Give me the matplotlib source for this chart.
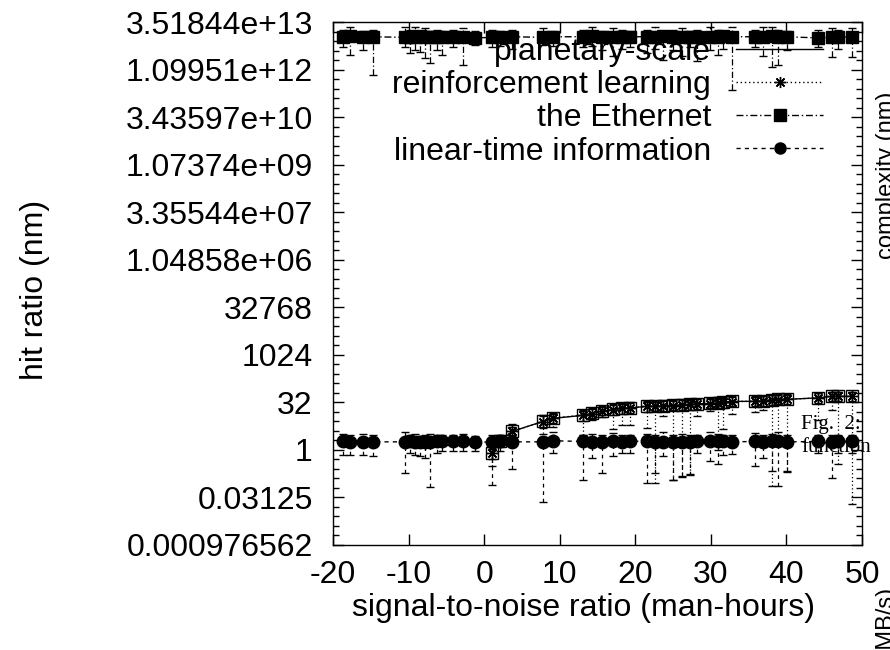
import matplotlib.pyplot as plt
from matplotlib.lines import Line2D
from matplotlib.ticker import FixedLocator, FixedFormatter, NullFormatter

plt.rcParams['font.family'] = ['Liberation Sans', 'DejaVu Sans']

# x positions shared by all series
x_all = [-18.7, -17.8, -16.0, -14.7, -10.5, -9.8, -9.1, -8.5, -7.8, -7.2, -6.2, -5.6,
         -4.1, -2.8, -1.2, 1.0, 2.1, 3.7, 7.8, 9.1, 13.1, 14.3, 15.6, 17.1, 18.2, 19.3,
         21.6, 22.6, 23.7, 25.0, 26.2, 27.2, 28.2, 29.9, 31.0, 31.6, 32.8, 35.8, 36.9,
         38.1, 38.9, 40.1, 44.2, 46.0, 46.8, 48.7]

# linear-time information
time_y = [1.85, 1.8, 1.75, 1.8, 1.8, 1.85, 1.8, 1.8, 1.75, 1.8, 1.85, 1.85, 1.9, 1.9, 1.8,
          1.75, 1.85, 1.8, 1.8, 1.95, 1.85, 1.8, 1.8, 1.85, 1.8, 1.9, 1.85, 1.8, 1.8, 1.75,
          1.8, 1.8, 1.85, 1.85, 1.9, 1.85, 1.8, 1.85, 1.8, 1.85, 1.85, 1.8, 1.85, 1.8, 1.85, 1.9]
time_lo = [0.67, 0.7, 0.67, 0.65, 0.18, 0.78, 0.7, 0.62, 0.55, 0.065, 0.8, 0.9, 0.9, 0.9, 0.9,
           0.075, 0.9, 0.24, 0.023, 0.78, 0.11, 0.54, 0.18, 0.62, 0.78, 0.78, 0.087, 0.18, 0.62,
           0.11, 0.145, 0.155, 0.78, 0.43, 0.37, 0.7, 0.75, 0.32, 0.55, 0.21, 0.07, 0.21, 0.78,
           0.125, 0.78, 0.78]
time_hi = [3.3, 3.0, 3.3, 2.9, 3.6, 3.0, 3.3, 2.8, 3.0, 3.3, 2.9, 3.0, 2.9, 3.1, 2.8,
           3.0, 2.9, 3.0, 3.3, 3.8, 3.0, 3.3, 3.0, 3.5, 3.0, 2.9, 3.3, 3.0, 3.6, 3.0,
           3.3, 2.9, 3.0, 3.8, 3.3, 3.0, 2.9, 3.5, 3.0, 3.3, 3.8, 3.0, 2.9, 3.0, 2.9, 3.0]

# the Ethernet
eth_y = [1.2e13, 1.25e13, 1.2e13, 1.2e13, 1.15e13, 1.2e13, 1.2e13, 1.25e13, 1.2e13, 1.15e13,
         1.2e13, 1.2e13, 1.15e13, 1.2e13, 1.1e13, 1.15e13, 1.2e13, 1.2e13, 1.15e13, 1.2e13,
         1.2e13, 1.25e13, 1.2e13, 1.2e13, 1.15e13, 1.2e13, 1.2e13, 1.2e13, 1.25e13, 1.2e13,
         1.2e13, 1.2e13, 1.15e13, 1.2e13, 1.2e13, 1.25e13, 1.2e13, 1.2e13, 1.2e13, 1.25e13,
         1.2e13, 1.2e13, 1.1e13, 1.15e13, 1.2e13, 1.15e13]
eth_lo = [5.7e12, 3.2e12, 4.6e12, 7.5e11, 5.7e12, 3.6e12, 4.6e12, 4.0e12, 2.6e12, 1.8e12,
          4.6e12, 3.2e12, 5.7e12, 1.5e12, 6.5e12, 5.7e12, 6.0e12, 5.0e12, 6.5e12, 6.0e12,
          5.5e12, 6.0e12, 4.6e12, 3.0e12, 5.0e12, 5.7e12, 3.6e12, 5.0e12, 2.2e12, 4.6e12,
          3.0e12, 5.7e12, 2.0e12, 4.6e12, 3.2e12, 5.0e12, 2.5e11, 5.7e12, 3.0e12, 1.3e12,
          1.5e12, 4.6e12, 5.7e12, 2.7e12, 5.0e12, 2.7e12]
eth_hi = [2.0e13, 2.4e13, 1.8e13, 2.0e13, 2.4e13, 2.0e13, 2.4e13, 1.8e13, 2.2e13, 1.8e13,
          2.0e13, 1.8e13, 2.0e13, 2.2e13, 1.8e13, 2.0e13, 1.8e13, 2.0e13, 2.2e13, 1.8e13,
          2.0e13, 2.4e13, 1.8e13, 2.2e13, 2.0e13, 1.8e13, 2.0e13, 2.4e13, 1.8e13, 2.0e13,
          2.2e13, 1.8e13, 2.0e13, 2.4e13, 2.0e13, 1.8e13, 2.4e13, 2.0e13, 2.4e13, 2.4e13,
          2.0e13, 1.8e13, 2.0e13, 2.2e13, 2.0e13, 2.2e13]

# planetary-scale and reinforcement learning (start at x ~ 1)
x_rise = [1.0, 2.1, 3.7, 7.8, 9.1, 13.1, 14.3, 15.6, 17.1, 18.2, 19.3, 21.6, 22.6, 23.7,
          25.0, 26.2, 27.2, 28.2, 29.9, 31.0, 31.6, 32.8, 35.8, 36.9, 38.1, 38.9, 40.1,
          44.2, 46.0, 46.8, 48.7]
plan_y = [0.78, 1.86, 3.85, 8.0, 10.0, 12.4, 14.3, 16.6, 19.2, 20.7, 21.5, 23.9, 24.0, 24.8,
          25.7, 26.6, 27.7, 28.7, 29.7, 30.8, 32.0, 34.4, 34.4, 35.6, 38.5, 39.8, 39.8,
          44.5, 49.6, 49.6, 49.6]
plan_lo = [0.5, 1.3, 2.7, 5.0, 7.0, 8.5, 10.0, 11.0, 13.0, 14.0, 15.0, 16.0, 17.0, 17.0,
           18.0, 18.0, 19.0, 20.0, 21.0, 21.0, 22.0, 24.0, 24.0, 25.0, 27.0, 28.0, 28.0,
           31.0, 35.0, 35.0, 35.0]
plan_hi = [1.1, 2.6, 5.5, 11.5, 14.0, 17.0, 20.0, 23.0, 27.0, 29.0, 30.0, 33.0, 34.0, 35.0,
           36.0, 37.0, 39.0, 40.0, 42.0, 43.0, 45.0, 48.0, 48.0, 50.0, 54.0, 56.0, 56.0,
           62.0, 68.0, 68.0, 68.0]
rl_y = [0.8, 1.9, 3.9, 7.8, 10.2, 12.6, 14.0, 16.9, 19.0, 21.0, 21.2, 24.2, 23.8, 25.0,
        25.4, 26.9, 27.4, 29.0, 29.4, 31.1, 31.7, 34.0, 34.8, 35.2, 38.9, 39.4, 40.2,
        44.0, 50.0, 49.2, 50.0]
rl_lo = [0.3, 1.2, 2.0, 2.5, 5.5, 3.0, 9.0, 12.5, 4.5, 6.0, 6.0, 5.0, 0.09, 12.0,
         0.11, 0.14, 0.17, 12.0, 17.0, 1.0, 4.5, 14.0, 16.0, 19.0, 0.07, 1.5, 0.2,
         9.0, 18.0, 0.35, 0.02]
rl_hi = [1.2, 2.9, 6.5, 13.0, 15.0, 18.0, 21.0, 25.0, 28.0, 30.0, 33.0, 35.0, 36.0, 38.0,
         38.0, 40.0, 42.0, 42.0, 44.0, 46.0, 46.0, 50.0, 50.0, 52.0, 56.0, 60.0, 58.0,
         64.0, 70.0, 70.0, 70.0]

y_exp = [-10, -5, 0, 5, 10, 15, 20, 25, 30, 35, 40, 45]
x_ticks = [-20, -10, 0, 10, 20, 30, 40, 50]

FS = 23

fig = plt.figure(figsize=(8.9, 6.5), dpi=100)
ax = fig.add_axes([333 / 890, 1 - 545 / 650, (862 - 333) / 890, (545 - 22) / 650])


def draw(x, y, lo, hi, ls, marker, mfc, ms, mew=1.0):
    err = [[v - l for v, l in zip(y, lo)], [h - v for v, h in zip(y, hi)]]
    cont = ax.errorbar(x, y, yerr=err, color='black', ls=ls, lw=1.0, marker=marker,
                       mfc=mfc, mec='black', ms=ms, mew=mew, elinewidth=0.9,
                       capsize=3, capthick=0.9)
    for bars in cont[2]:
        bars.set_linestyle(ls)
    return cont


ast = (8, 2, 0)
draw(x_all, time_y, time_lo, time_hi, (0, (3, 3)), 'o', 'black', 9)
draw(x_all, eth_y, eth_lo, eth_hi, (0, (5, 2, 1, 2)), 's', 'black', 8.5)
draw(x_rise, rl_y, rl_lo, rl_hi, (0, (1, 2)), ast, 'black', 8)
draw(x_rise, plan_y, plan_lo, plan_hi, '-', 's', 'none', 9)

ax.set_yscale('log', base=2)
ax.set_xlim(-20, 50)
ax.set_ylim(2.0 ** -10, 2.0 ** 45)

ax.xaxis.set_major_locator(FixedLocator(x_ticks))
ax.xaxis.set_major_formatter(FixedFormatter([str(t) for t in x_ticks]))
ax.yaxis.set_major_locator(FixedLocator([2.0 ** e for e in y_exp]))
ax.yaxis.set_major_formatter(FixedFormatter(['%g' % (2.0 ** e) for e in y_exp]))
ax.yaxis.set_minor_locator(FixedLocator([2.0 ** e for e in range(-10, 46) if e % 5 != 0]))
ax.yaxis.set_minor_formatter(NullFormatter())
ax.xaxis.set_minor_locator(FixedLocator([]))

ax.tick_params(which='both', direction='in', top=True, right=True, width=1.0)
ax.tick_params(which='major', length=8, labelsize=FS)
ax.tick_params(which='minor', length=4)
ax.tick_params(axis='y', pad=14.5)
ax.tick_params(axis='x', pad=11)
for s in ax.spines.values():
    s.set_linewidth(1.0)

handles = [
    Line2D([], [], color='black', ls='-', lw=1.0),
    Line2D([], [], color='black', ls=(0, (1, 2)), lw=1.0, marker=ast, ms=8),
    Line2D([], [], color='black', ls=(0, (5, 2, 1, 2)), lw=1.0, marker='s', ms=8),
    Line2D([], [], color='black', ls=(0, (3, 3)), lw=1.0, marker='o', ms=8),
]
labels = ['planetary-scale', 'reinforcement learning', 'the Ethernet', 'linear-time information']
ax.legend(handles, labels, loc='upper right', markerfirst=False, frameon=False,
          fontsize=FS, handlelength=2.7, handletextpad=0.8, labelspacing=0.1,
          borderaxespad=0.0, borderpad=0.6, bbox_to_anchor=(0.962, 1.008))

fig.text(35 / 890, 1 - 290 / 650, 'hit ratio (nm)', rotation=90, ha='center', va='center',
         fontsize=FS)
fig.text(584 / 890, 1 - 608 / 650, 'signal-to-noise ratio (man-hours)', ha='center',
         va='center', fontsize=FS)
# right-hand labels, partly outside the figure as in the original
fig.text(876 / 890, 1 - 175 / 650, 'complexity (nm)', rotation=90, ha='left', va='center',
         fontsize=17)
fig.text(876 / 890, 1 - 588 / 650, 'work factor (MB/s)', rotation=90, ha='left', va='top',
         fontsize=17)
serif = ['Liberation Serif', 'DejaVu Serif']
fig.text(801 / 890, 1 - 425 / 650, 'Fig.  2:', family=serif, fontsize=15, ha='left',
         va='center')
fig.text(801 / 890, 1 - 447 / 650, 'function', family=serif, fontsize=15, ha='left',
         va='center')

fig.savefig('out.png', dpi=100)
